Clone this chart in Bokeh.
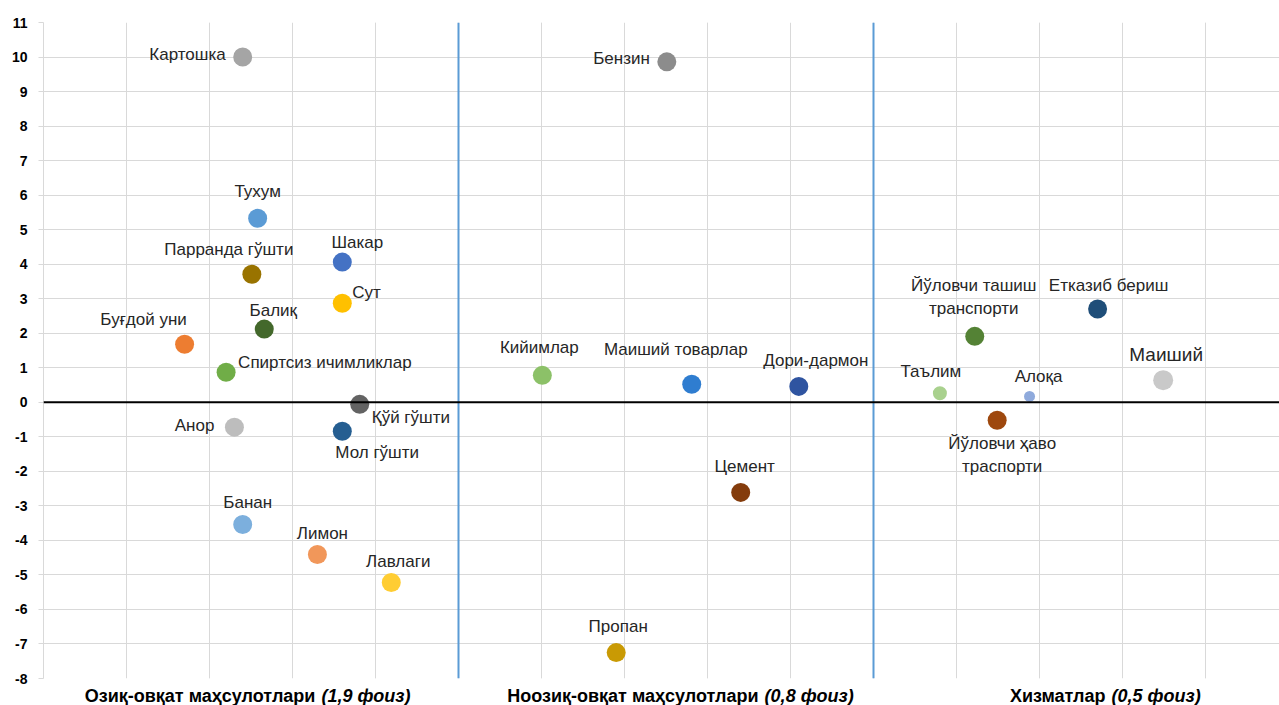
from bokeh.plotting import figure
from bokeh.models import ColumnDataSource, SingleIntervalTicker, Grid, Span, LinearAxis, Range1d
from bokeh.layouts import column
from bokeh.embed import file_html
from bokeh.resources import INLINE
from bokeh.core.properties import value

# ---------------- data ----------------
names = [
    "Картошка", "Тухум", "Парранда гўшти", "Шакар", "Сут", "Балиқ", "Буғдой уни",
    "Спиртсиз ичимликлар", "Қўй гўшти", "Анор", "Мол гўшти", "Банан", "Лимон", "Лавлаги",
    "Бензин", "Кийимлар", "Маиший товарлар", "Дори-дармон", "Цемент", "Пропан",
    "Йўловчи ташиш\nтранспорти", "Етказиб бериш", "Таълим", "Алоқа",
    "Йўловчи ҳаво\nтраспорти", "Маиший",
]
x_vals = [
    2.40, 2.58, 2.51, 3.60, 3.60, 2.66, 1.70,
    2.20, 3.81, 2.30, 3.60, 2.40, 3.30, 4.19,
    7.51, 6.01, 7.81, 9.10, 8.40, 6.90,
    11.22, 12.70, 10.80, 11.88,
    11.49, 13.49,
]
y_vals = [
    10.0, 5.33, 3.71, 4.06, 2.87, 2.12, 1.68,
    0.87, -0.06, -0.72, -0.84, -3.54, -4.41, -5.22,
    9.86, 0.78, 0.52, 0.46, -2.61, -7.25,
    1.91, 2.70, 0.26, 0.17,
    -0.52, 0.64,
]
colors = [
    "#a5a5a5", "#5b9bd5", "#997300", "#4472c4", "#ffc000", "#43682b", "#ed7d31",
    "#70ad47", "#636363", "#bdbdbd", "#255e91", "#7cafdd", "#f1975a", "#ffcd33",
    "#8c8c8c", "#8cc168", "#2f7dd0", "#2f54a0", "#843c0c", "#c99a04",
    "#548235", "#1f4e79", "#a9d18e", "#8faadc",
    "#9e480e", "#c9c9c9",
]
y_ticks = list(range(-8, 12))
y_tick_labels = ["-8", "-7", "-6", "-5", "-4", "-3", "-2", "-1", "0", "1",
                 "2", "3", "4", "5", "6", "7", "8", "9", "10", "11"]

group_boundaries = [5, 10]
group_titles = ["Озиқ-овқат маҳсулотлари", "Ноозиқ-овқат маҳсулотлари", "Хизматлар"]
group_shares = ["(1,9 фоиз)", "(0,8 фоиз)", "(0,5 фоиз)"]
group_split_x = [3.30, 8.64, 12.82]

# ---------------- styling ----------------
sizes = [19] * 22 + [14, 11, 19, 20]
label_align = [
    "right", "center", "center", "center", "left", "center", "center",
    "left", "left", "right", "left", "center", "center", "center",
    "right", "center", "center", "center", "center", "center",
    "center", "center", "center", "center",
    "center", "center",
]
label_dx = [
    -17, 0, -23, 15, 10, 9, -41,
    12, 12, -20, -7, 5, 5, 7,
    -17, -3, -16, 17, 4, 2,
    -1, 11, -9, 9,
    5, 3,
]
label_dy = [
    -3, -27, -25, -20, -11, -19, -25,
    -10, 13, -2, 21, -22, -21, -21,
    -3, -28, -35, -26, -26, -26,
    -39, -24, -22, -20,
    35, -26,
]
label_size = ["17px"] * 25 + ["19px"]

FONT = "Liberation Sans"
W = 1279
PX_PER_UNIT = 83.0
LEFT = 43

src = ColumnDataSource(dict(
    x=x_vals, y=y_vals, name=names, color=colors, size=sizes,
    align=label_align, dx=label_dx, dy=label_dy, fs=label_size,
))

xr = Range1d(0, (W - LEFT) / PX_PER_UNIT)

p = figure(width=W, height=685, output_backend="svg", toolbar_location=None,
           x_range=xr, y_range=Range1d(-8, 11),
           x_axis_location=None, y_axis_location=None,
           min_border_left=LEFT, min_border_right=0, min_border_top=22, min_border_bottom=7)
p.outline_line_color = None

yaxis = LinearAxis(ticker=SingleIntervalTicker(interval=1))
yaxis.axis_line_color = "#d9d9d9"
yaxis.major_tick_line_color = "#d9d9d9"
yaxis.major_tick_out = 5
yaxis.major_tick_in = 0
yaxis.minor_tick_line_color = None
yaxis.major_label_text_font = FONT
yaxis.major_label_text_font_style = "bold"
yaxis.major_label_text_font_size = "14px"
yaxis.major_label_text_color = "#000000"
yaxis.major_label_standoff = 11
yaxis.major_label_overrides = {t: s for t, s in zip(y_ticks, y_tick_labels)}
p.add_layout(yaxis, "left")

p.add_layout(Grid(dimension=1, ticker=SingleIntervalTicker(interval=1), grid_line_color="#d9d9d9"))
p.add_layout(Grid(dimension=0, ticker=SingleIntervalTicker(interval=1), grid_line_color="#d9d9d9"))

for bnd in group_boundaries:
    p.add_layout(Span(location=bnd, dimension="height", line_color="#5b9bd5", line_width=2))
p.add_layout(Span(location=0, dimension="width", line_color="#000000", line_width=2))

p.scatter("x", "y", source=src, size="size", fill_color="color", line_color=None)

p.text("x", "y", text="name", source=src, text_align="align", text_baseline="middle",
       x_offset="dx", y_offset="dy", text_font=value(FONT), text_font_size="fs",
       text_color="#262626", text_line_height=1.2)

# ---------------- category captions under the plot ----------------
cap_src = ColumnDataSource(dict(x=group_split_x, y=[0.5] * 3, title=group_titles, share=group_shares))
b = figure(width=W, height=20, output_backend="svg", toolbar_location=None,
           x_range=xr, y_range=Range1d(0, 1),
           x_axis_location=None, y_axis_location=None,
           min_border_left=LEFT, min_border_right=0, min_border_top=0, min_border_bottom=0)
b.outline_line_color = None
b.xgrid.visible = False
b.ygrid.visible = False
b.text("x", "y", text="title", source=cap_src, text_align="right", text_baseline="middle",
       x_offset=-2, text_font=value(FONT), text_font_style="bold", text_font_size="18px",
       text_color="#000000")
b.text("x", "y", text="share", source=cap_src, text_align="left", text_baseline="middle",
       x_offset=4, text_font=value(FONT), text_font_style="bold italic", text_font_size="18px",
       text_color="#000000")

layout = column(p, b, spacing=0)
open("out.html", "w").write(file_html(layout, INLINE))
